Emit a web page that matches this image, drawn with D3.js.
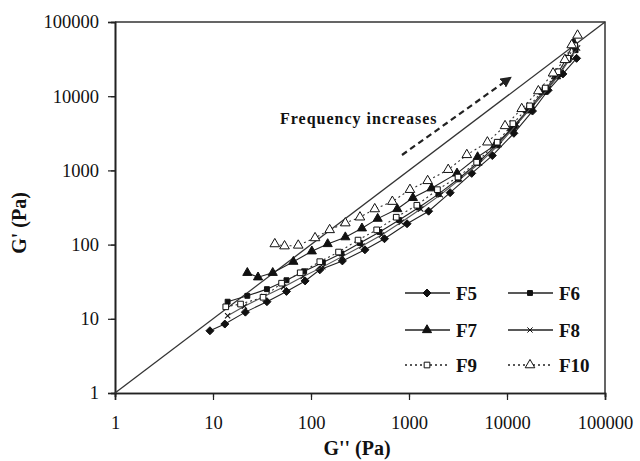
<!DOCTYPE html>
<html>
<head>
<meta charset="utf-8">
<script src="https://d3js.org/d3.v7.min.js"></script>
<style>
    body { margin: 0; background: #fff; }
    text { font-family: "Liberation Serif", "Times New Roman", serif; fill: #111; }
</style>
</head>
<body>
<svg width="640" height="461"></svg>
<script>
    // G'' (Pa) and G' (Pa), one pair of arrays per sample
    var f5x = [9.3, 13.2, 21.4, 35.5, 56.2, 87.1, 123, 209, 355, 562, 955, 1585, 2630, 4365, 7079, 11750, 18200, 26300, 37150, 51290];
    var f5y = [6.9, 8.5, 12.3, 17.0, 23.4, 32.4, 45.7, 60.3, 85.1, 120, 191, 282, 501, 912, 1585, 3162, 6310, 12020, 19950, 32360];

    var f6x = [14.1, 22.4, 35.5, 56.2, 85.1, 132, 204, 316, 501, 794, 1259, 1995, 3162, 5012, 7943, 12020, 17780, 25120, 33880, 42660, 50120];
    var f6y = [17.0, 20.4, 25.1, 33.1, 43.7, 57.5, 75.9, 105, 148, 214, 316, 479, 759, 1259, 2239, 3981, 7079, 12020, 19950, 31620, 41690];

    var f7x = [22.4, 28.8, 40.7, 66.1, 102, 148, 224, 331, 479, 759, 1096, 1698, 3090, 5012, 7586, 11220, 16220, 23440, 31620, 39810, 47860];
    var f7y = [41.7, 36.3, 41.7, 58.9, 81.3, 102, 126, 166, 224, 302, 427, 575, 912, 1514, 2188, 3715, 6457, 11480, 18620, 30900, 52480];

    var f8x = [14.1, 20.9, 33.1, 52.5, 83.2, 132, 209, 331, 525, 832, 1318, 2089, 3311, 5248, 8318, 12590, 18200, 26300, 35480, 44670, 52480];
    var f8y = [11.0, 14.8, 20.0, 26.9, 37.2, 50.1, 69.2, 95.5, 135, 200, 302, 468, 759, 1259, 2239, 4169, 7413, 12590, 20890, 33110, 44670];

    var f9x = [13.5, 19.1, 32.4, 50.1, 77.6, 123, 191, 302, 468, 741, 1202, 1950, 3162, 4898, 7943, 11480, 16980, 24550, 33110, 41690, 48980];
    var f9y = [14.5, 15.8, 19.5, 30.2, 41.7, 58.9, 79.4, 115, 158, 234, 339, 550, 813, 1288, 2399, 4266, 7413, 12880, 21380, 32360, 47860];

    var f10x = [42.7, 53.7, 74.1, 110, 155, 224, 316, 447, 676, 1023, 1549, 2512, 3890, 6310, 9550, 14130, 20890, 29510, 38900, 45710, 52480];
    var f10y = [102, 95.5, 97.7, 123, 158, 195, 234, 302, 380, 550, 724, 1023, 1622, 2399, 3981, 6761, 11750, 20420, 30900, 48980, 66070];

    var names = ["F5", "F6", "F7", "F8", "F9", "F10"];
    var xs = [f5x, f6x, f7x, f8x, f9x, f10x];
    var ys = [f5y, f6y, f7y, f8y, f9y, f10y];
    var majorTicks = [1, 10, 100, 1000, 10000, 100000];

    var styles = [
        { sym: "diamond", fill: "#111", size: 4, dash: null, line: "#222" },
        { sym: "square", fill: "#111", size: 24, dash: null, line: "#222" },
        { sym: "triangle", fill: "#111", size: 36, dash: null, line: "#222" },
        { sym: "x", fill: "none", size: 2.6, dash: null, line: "#555" },
        { sym: "square", fill: "#fff", size: 32, dash: "2,3", line: "#333" },
        { sym: "triangle", fill: "#fff", size: 40, dash: "2,3", line: "#333" }
    ];

    var svg = d3.select("svg");
    var pLeft = 115, pRight = 605, pTop = 22, pBottom = 393;

    var x = d3.scaleLog().domain([1, 100000]).range([pLeft, pRight]);
    var y = d3.scaleLog().domain([1, 100000]).range([pBottom, pTop]);

    function markerPath(s) {
        var r = s.size;
        if (s.sym === "x") {
            return "M" + (-r) + "," + (-r) + "L" + r + "," + r + "M" + (-r) + "," + r + "L" + r + "," + (-r);
        }
        if (s.sym === "diamond") {
            return "M0," + (-r) + "L" + r + ",0L0," + r + "L" + (-r) + ",0Z";
        }
        var t = s.sym === "square" ? d3.symbolSquare : d3.symbolTriangle;
        return d3.symbol().type(t).size(s.size)();
    }

    // frame (top and right)
    svg.append("path")
        .attr("d", "M" + pLeft + "," + pTop + "H" + pRight + "V" + pBottom)
        .attr("fill", "none").attr("stroke", "#333").attr("stroke-width", 1.5);

    // minor ticks
    var minorX = d3.axisBottom(x).ticks(5).tickSize(4).tickFormat("");
    var minorY = d3.axisLeft(y).ticks(5).tickSize(4).tickFormat("");
    svg.append("g").attr("transform", "translate(0," + pBottom + ")").call(minorX);
    svg.append("g").attr("transform", "translate(" + pLeft + ",0)").call(minorY);

    svg.append("g").attr("transform", "translate(0," + pBottom + ")")
        .call(d3.axisBottom(x).tickValues(majorTicks).tickSize(7).tickPadding(16).tickFormat(d3.format("d")));
    svg.append("g").attr("transform", "translate(" + pLeft + ",0)")
        .call(d3.axisLeft(y).tickValues(majorTicks).tickSize(7).tickPadding(9).tickFormat(d3.format("d")));

    svg.selectAll(".domain").attr("stroke", "#222").attr("stroke-width", 1.6);
    svg.selectAll(".tick line").attr("stroke", "#222").attr("stroke-width", 1.2);
    svg.selectAll(".tick text").attr("font-size", 18.5).attr("font-family", "Liberation Serif").attr("fill", "#111");

    // G' = G'' line
    svg.append("line")
        .attr("x1", x(1)).attr("y1", y(1)).attr("x2", x(100000)).attr("y2", y(100000))
        .attr("stroke", "#333").attr("stroke-width", 1.3);

    // series
    names.forEach(function(n, i) {
        var pts = xs[i].map(function(v, j) { return [v, ys[i][j]]; });
        var s = styles[i];
        var g = svg.append("g");
        g.append("path")
            .datum(pts)
            .attr("fill", "none")
            .attr("stroke", s.line)
            .attr("stroke-width", 1.1)
            .attr("stroke-dasharray", s.dash)
            .attr("d", d3.line().x(function(d) { return x(d[0]); }).y(function(d) { return y(d[1]); }));
        g.selectAll("path.m")
            .data(pts)
            .enter().append("path")
            .attr("class", "m")
            .attr("transform", function(d) { return "translate(" + x(d[0]) + "," + y(d[1]) + ")"; })
            .attr("d", markerPath(s))
            .attr("fill", s.fill)
            .attr("stroke", "#111")
            .attr("stroke-width", s.sym === "x" ? 1.1 : 1);
    });

    // frequency arrow
    var defs = svg.append("defs");
    defs.append("marker").attr("id", "arr")
        .attr("viewBox", "0 0 10 10").attr("refX", 8).attr("refY", 5)
        .attr("markerWidth", 5).attr("markerHeight", 5).attr("orient", "auto")
        .append("path").attr("d", "M0,0L10,5L0,10Z").attr("fill", "#222");
    svg.append("line")
        .attr("x1", 402).attr("y1", 155).attr("x2", 510).attr("y2", 78)
        .attr("stroke", "#222").attr("stroke-width", 2.2)
        .attr("stroke-dasharray", "6,4")
        .attr("marker-end", "url(#arr)");
    svg.append("text")
        .attr("x", 280).attr("y", 124)
        .attr("font-family", "DejaVu Serif").attr("font-weight", "bold").attr("font-size", 16)
        .attr("letter-spacing", 1)
        .text("Frequency increases");

    // legend
    var legendCols = [405, 508];
    var legendRows = [293, 330, 365];
    names.forEach(function(n, i) {
        var lx = legendCols[i % 2], ly = legendRows[Math.floor(i / 2)];
        var s = styles[i];
        var g = svg.append("g").attr("transform", "translate(" + lx + "," + ly + ")");
        g.append("line").attr("x1", 0).attr("x2", 45).attr("y1", 0).attr("y2", 0)
            .attr("stroke", "#222").attr("stroke-width", 1.3).attr("stroke-dasharray", s.dash);
        g.append("path").attr("transform", "translate(22,0)")
            .attr("d", markerPath(s)).attr("fill", s.fill).attr("stroke", "#111").attr("stroke-width", 1);
        g.append("text").attr("x", 51).attr("y", 6.5)
            .attr("font-size", 19).attr("font-weight", "bold")
            .text(n);
    });

    // axis titles
    svg.append("text")
        .attr("x", 357).attr("y", 455).attr("text-anchor", "middle")
        .attr("font-size", 20).attr("font-weight", "bold")
        .text("G'' (Pa)");
    svg.append("text")
        .attr("transform", "translate(26,223) rotate(-90)").attr("text-anchor", "middle")
        .attr("font-size", 20).attr("font-weight", "bold")
        .text("G' (Pa)");
</script>
</body>
</html>
